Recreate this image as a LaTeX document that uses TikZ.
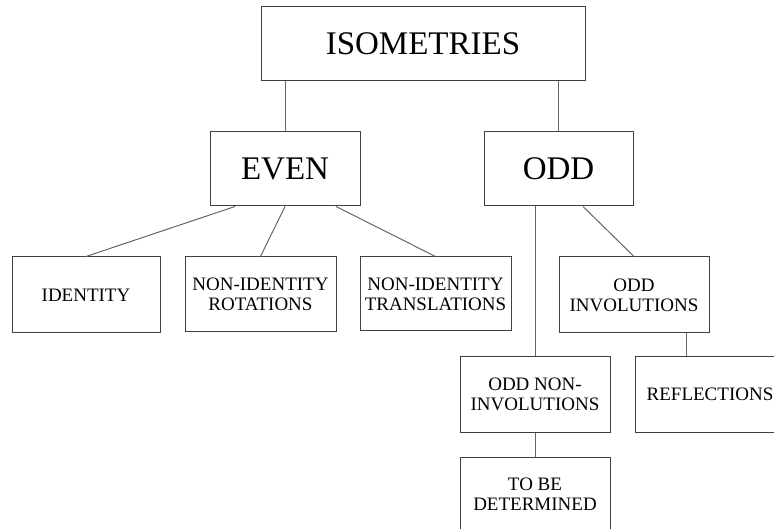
\documentclass[tikz,border=0pt]{standalone}
\usepackage{fontspec}
\setmainfont{Liberation Serif}
\usepackage{tikz}
\usetikzlibrary{positioning}
\tikzset{
    catbox/.style={
      rectangle,
      draw=black!75, line width=1pt,
      inner sep=2pt,
      align=center,
      text centered,
      font=\fontsize{19}{20}\selectfont,
    },
    bigbox/.style={
      catbox,
      font=\fontsize{33}{36}\selectfont,
    },
    link/.style={draw=black!60, line width=1pt},
}

\begin{document}
\begin{tikzpicture}[x=1pt,y=-1pt]

    \clip (0,0) rectangle (774,529);

    \node[bigbox, minimum width=324pt, minimum height=74pt] (iso) at (423,44) {ISOMETRIES};

    \node[bigbox, minimum width=150pt, minimum height=74pt] (even) at (285,169) {EVEN};
    \node[bigbox, minimum width=149pt, minimum height=74pt] (odd) at (558.5,169) {ODD};

    \node[catbox, minimum width=148pt, minimum height=76pt] (ident) at (86,295) {IDENTITY};
    \node[catbox, minimum width=151pt, minimum height=75pt] (rot) at (260.5,294.5)
    {NON-IDENTITY\\ROTATIONS};
    \node[catbox, minimum width=151pt, minimum height=74pt] (trans) at (435.5,294)
    {NON-IDENTITY\\TRANSLATIONS};

    \node[catbox, minimum width=150pt, minimum height=76pt] (oddinv) at (634,295)
    {ODD\\INVOLUTIONS};
    \node[catbox, minimum width=150pt, minimum height=75pt] (oddnon) at (535,394.5)
    {ODD NON-\\INVOLUTIONS};
    \node[catbox, minimum width=150pt, minimum height=75pt] (refl) at (710,394.5) {REFLECTIONS};
    \node[catbox, minimum width=150pt, minimum height=75pt] (tbd) at (535,494.5)
    {TO BE\\DETERMINED};

    \path[link]

    (iso.south -| even.north) edge (even.north)
    (iso.south -| odd.north) edge (odd.north)

    ([xshift=-50pt]even.south) edge (ident.north)
    (even.south) edge (rot.north)
    ([xshift=51pt]even.south) edge (trans.north)

    (oddnon.north |- odd.south) edge (oddnon.north)
    ([xshift=24.5pt]odd.south) edge (oddinv.north)

    ([xshift=52pt]oddinv.south) edge ([xshift=52pt]oddinv.south |- refl.north)
    (oddnon.south) edge (tbd.north)

    ;
  \end{tikzpicture}
\end{document}
